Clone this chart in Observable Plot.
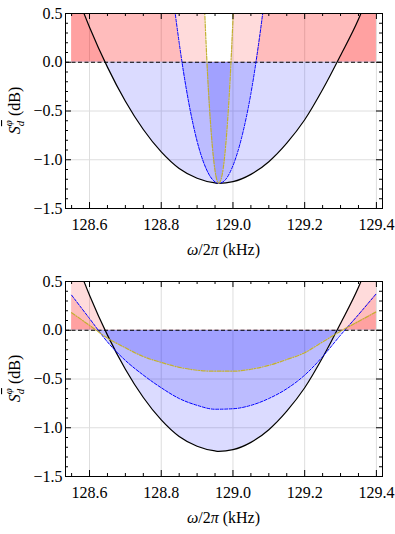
<!DOCTYPE html>
<html><head><meta charset="utf-8">
<script src="https://cdn.jsdelivr.net/npm/d3@7"></script>
<script src="https://cdn.jsdelivr.net/npm/@observablehq/plot@0.6"></script>
<style>body{margin:0;background:#fff} svg{display:block}</style>
</head><body><div id="chart"></div>
<script>
// ---- tick labels ----
const xTicks = [128.6, 128.8, 129.0, 129.2, 129.4];
const xMinor = [128.55, 128.65, 128.7, 128.75, 128.85, 128.9, 128.95, 129.05, 129.1, 129.15, 129.25, 129.3, 129.35];
const yTicks = [-1.5, -1.0, -0.5, 0.0, 0.5];
const yMinor = [-1.4, -1.3, -1.2, -1.1, -0.9, -0.8, -0.7, -0.6, -0.4, -0.3, -0.2, -0.1, 0.1, 0.2, 0.3, 0.4];

// ---- black curve (same in both panels) ----
const blackX = [128.55, 128.60, 128.65, 128.70, 128.75, 128.80, 128.85, 128.90, 128.95, 128.96, 129.00, 129.05, 129.10, 129.15, 129.20, 129.25, 129.30, 129.35, 129.40];
const blackY = [0.83, 0.36, -0.05, -0.40, -0.69, -0.92, -1.09, -1.19, -1.238, -1.242, -1.225, -1.15, -1.02, -0.83, -0.59, -0.28, 0.07, 0.44, 0.92];

// ---- top panel: blue dashed and yellow dash-dot ----
const topBlueX = [128.55, 128.70, 128.80, 128.825, 128.85, 128.875, 128.90, 128.925, 128.95, 128.96, 128.975, 129.00, 129.025, 129.05, 129.075, 129.10, 129.125, 129.20, 129.40];
const topBlueY = [18.5, 6.7, 1.79, 0.92, 0.20, -0.38, -0.81, -1.09, -1.228, -1.242, -1.219, -1.06, -0.76, -0.32, 0.28, 1.02, 1.90, 5.4, 21.3];
const topYellowX = [128.55, 128.90, 128.92, 128.93, 128.94, 128.95, 128.96, 128.97, 128.98, 128.99, 129.00, 129.02, 129.40];
const topYellowY = [185, 2.88, 0.62, -0.18, -0.75, -1.11, -1.242, -1.15, -0.84, -0.31, 0.44, 2.61, 207];

// ---- bottom panel: blue dashed and yellow dash-dot ----
const botX = [128.55, 128.60, 128.65, 128.70, 128.75, 128.80, 128.85, 128.90, 128.95, 129.00, 129.05, 129.10, 129.15, 129.20, 129.25, 129.30, 129.35, 129.40];
const botBlueY = [0.36, 0.12, -0.12, -0.31, -0.46, -0.59, -0.70, -0.77, -0.81, -0.805, -0.77, -0.70, -0.60, -0.46, -0.27, -0.05, 0.16, 0.376];
const botYellowY = [0.18, 0.05, -0.08, -0.18, -0.27, -0.33, -0.38, -0.41, -0.42, -0.42, -0.40, -0.36, -0.30, -0.23, -0.12, -0.01, 0.09, 0.19];

const FONT = "Liberation Serif, serif";
const W = 395, ML = 65, MR = 13, MT = 13, FH = 195, FW = W - ML - MR;
const fmt = d3.format(".1f");
const YEL = "#c2b030";

function panel(id, height, series) {
  const MB = height - MT - FH;
  const marks = [
    Plot.gridX(xTicks, {stroke: "#dedede", strokeOpacity: 1}),
    Plot.gridY(yTicks, {stroke: "#dedede", strokeOpacity: 1})
  ];
  const tables = series.map(s => s.x.map((x, i) => ({x, y: s.y[i]})));
  tables.forEach(data => {
    marks.push(Plot.areaY(data, {x: "x", y1: 0, y2: "y", fill: "#ff0000", fillOpacity: 0.14, curve: "monotone-x", ariaDescription: "pos-fill"}));
    marks.push(Plot.areaY(data, {x: "x", y1: 0, y2: "y", fill: "#0000ff", fillOpacity: 0.14, curve: "monotone-x", ariaDescription: "neg-fill"}));
  });
  marks.push(Plot.ruleY([0], {stroke: "#000", strokeWidth: 1, strokeDasharray: "4,2.5"}));
  series.forEach((s, k) => {
    marks.push(Plot.line(tables[k], {x: "x", y: "y", stroke: s.stroke, strokeWidth: s.width, strokeDasharray: s.dash, curve: "monotone-x", clip: true}));
  });
  marks.push(
    Plot.frame({stroke: "#000", strokeWidth: 1}),
    Plot.tickX(xTicks, {stroke: "#000", insetTop: FH - 6}),
    Plot.tickX(xTicks, {stroke: "#000", insetBottom: FH - 6}),
    Plot.tickX(xMinor, {stroke: "#000", insetTop: FH - 3}),
    Plot.tickX(xMinor, {stroke: "#000", insetBottom: FH - 3}),
    Plot.tickY(yTicks, {stroke: "#000", insetRight: FW - 6}),
    Plot.tickY(yTicks, {stroke: "#000", insetLeft: FW - 6}),
    Plot.tickY(yMinor, {stroke: "#000", insetRight: FW - 3}),
    Plot.tickY(yMinor, {stroke: "#000", insetLeft: FW - 3}),
    Plot.axisX(xTicks, {anchor: "bottom", tickSize: 0, tickPadding: 10, tickFormat: fmt, label: null}),
    Plot.axisY(yTicks, {anchor: "left", tickSize: 0, tickPadding: 3, tickFormat: fmt, label: null})
  );
  const svg = Plot.plot({
    width: W, height,
    marginLeft: ML, marginRight: MR, marginTop: MT, marginBottom: MB,
    x: {domain: [128.533, 129.417]},
    y: {domain: [-1.5, 0.5]},
    style: {fontFamily: FONT, fontSize: "16px", color: "#000", background: "#fff", overflow: "visible"},
    marks
  });
  const sel = d3.select(svg);
  let y0;
  try { y0 = svg.scale("y").apply(0); } catch (e) { y0 = MT + FH * 0.25; }
  const defs = sel.insert("defs", ":first-child");
  defs.append("clipPath").attr("id", id + "-pos").append("rect")
    .attr("x", ML).attr("y", MT).attr("width", FW).attr("height", y0 - MT);
  defs.append("clipPath").attr("id", id + "-neg").append("rect")
    .attr("x", ML).attr("y", y0).attr("width", FW).attr("height", MT + FH - y0);
  sel.selectAll('g[aria-description="pos-fill"]').attr("clip-path", `url(#${id}-pos)`);
  sel.selectAll('g[aria-description="neg-fill"]').attr("clip-path", `url(#${id}-neg)`);

  // axis labels with mixed styles
  const yl = sel.append("text")
    .attr("transform", `translate(20,${MT + FH / 2}) rotate(-90)`)
    .attr("text-anchor", "middle").attr("font-family", FONT).attr("font-size", 16).attr("fill", "#000");
  yl.append("tspan").attr("font-style", "italic").text("S");
  yl.append("tspan").attr("font-style", "italic").attr("font-size", 11).attr("dy", 4).text("d");
  yl.append("tspan").attr("font-style", "italic").attr("font-size", 11).attr("dx", -5.5).attr("dy", -12)
    .attr("text-decoration", "overline").text("φ");
  yl.append("tspan").attr("dy", 8).text(" (dB)");

  const xl = sel.append("text")
    .attr("x", ML + FW / 2).attr("y", MT + FH + 47)
    .attr("text-anchor", "middle").attr("font-family", FONT).attr("font-size", 16).attr("fill", "#000");
  xl.append("tspan").attr("font-style", "italic").text("ω");
  xl.append("tspan").text("/2");
  xl.append("tspan").attr("font-style", "italic").text("π");
  xl.append("tspan").text(" (kHz)");
  return svg;
}

const chart = document.getElementById("chart");
chart.appendChild(panel("top", 268, [
  {x: blackX, y: blackY, stroke: "#000", width: 1.2, dash: null},
  {x: topBlueX, y: topBlueY, stroke: "#0000ff", width: 1, dash: "3,1.5"},
  {x: topYellowX, y: topYellowY, stroke: YEL, width: 1.2, dash: "4,1.5,1,1.5"}
]));
chart.appendChild(panel("bot", 266, [
  {x: blackX, y: blackY, stroke: "#000", width: 1.2, dash: null},
  {x: botX, y: botBlueY, stroke: "#0000ff", width: 1, dash: "3,1.5"},
  {x: botX, y: botYellowY, stroke: YEL, width: 1.2, dash: "4,1.5,1,1.5"}
]));
</script>
</body></html>
